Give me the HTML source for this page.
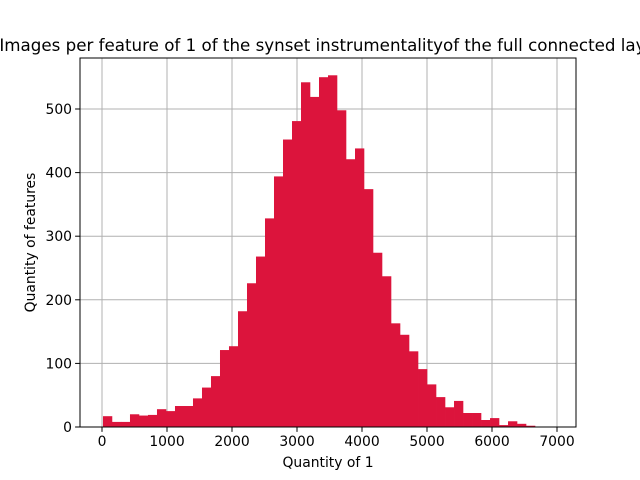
<!DOCTYPE html>
<html><head><meta charset="utf-8"><style>
body{margin:0;background:#fff}
svg{display:block;font-family:"DejaVu Sans","Liberation Sans",sans-serif}
</style></head><body>
<svg id="chart" width="640" height="480" viewBox="0 0 640 480" xmlns="http://www.w3.org/2000/svg">
<rect width="640" height="480" fill="#fff"/>
<g id="grid"></g>
<g id="bars"></g>
<g id="axes"></g>
<text x="331" y="51" text-anchor="middle" font-size="16.7">Images per feature of 1 of the synset instrumentalityof the full connected layer</text>
<text x="328" y="467" text-anchor="middle" font-size="13.9">Quantity of 1</text>
<text x="35" y="242.5" text-anchor="middle" font-size="13.9" transform="rotate(-90 35 242.5)">Quantity of features</text>
</svg>
<script>
const binStart = 15;
const binEnd = 6662;
const counts = [17,8,8,20,18,19,28,25,33,33,45,62,80,121,127,182,226,268,328,394,452,481,542,519,550,553,498,421,438,374,274,237,163,145,119,91,67,47,31,41,22,22,11,14,3,9,5,2];
const xTicks = [0,1000,2000,3000,4000,5000,6000,7000];
const yTicks = [0,100,200,300,400,500];
const L=80,R=576,T=58,B=427;
const X=v=>102+v*0.065;
const Y=v=>427-v*0.636;
const NS="http://www.w3.org/2000/svg";
function mk(tag,attrs,parent){const e=document.createElementNS(NS,tag);for(const k in attrs)e.setAttribute(k,attrs[k]);parent.appendChild(e);return e;}
const grid=document.getElementById('grid'),bars=document.getElementById('bars'),axes=document.getElementById('axes');
const w=(binEnd-binStart)/counts.length;
counts.forEach((c,i)=>{
  const x0=X(binStart+i*w),x1=X(binStart+(i+1)*w);
  const r=mk('rect',{x:x0,y:Y(c),width:x1-x0+0.3,height:Y(0)-Y(c),fill:'#dc143c'},bars);
  
  
});
xTicks.forEach(t=>{
  const x=X(t);
  const g=mk('line',{x1:x,x2:x,y1:T,y2:B,stroke:'#b0b0b0','stroke-width':1},grid);
  
  
  mk('line',{x1:x,x2:x,y1:B,y2:B+4.9,stroke:'#000','stroke-width':1},axes);
  const tx=mk('text',{x:x,y:B+19,'text-anchor':'middle','font-size':13.9},axes);
  tx.textContent=t;
  
  
});
yTicks.forEach(t=>{
  const y=Y(t);
  const g=mk('line',{x1:L,x2:R,y1:y,y2:y,stroke:'#b0b0b0','stroke-width':1},grid);
  
  
  mk('line',{x1:L-4.9,x2:L,y1:y,y2:y,stroke:'#000','stroke-width':1},axes);
  const tx=mk('text',{x:L-8,y:y+5,'text-anchor':'end','font-size':13.9},axes);
  tx.textContent=t;
  
  
});
const fr=mk('rect',{x:L,y:T,width:R-L,height:B-T,fill:'none',stroke:'#000','stroke-width':1},axes);


</script>
</body></html>
